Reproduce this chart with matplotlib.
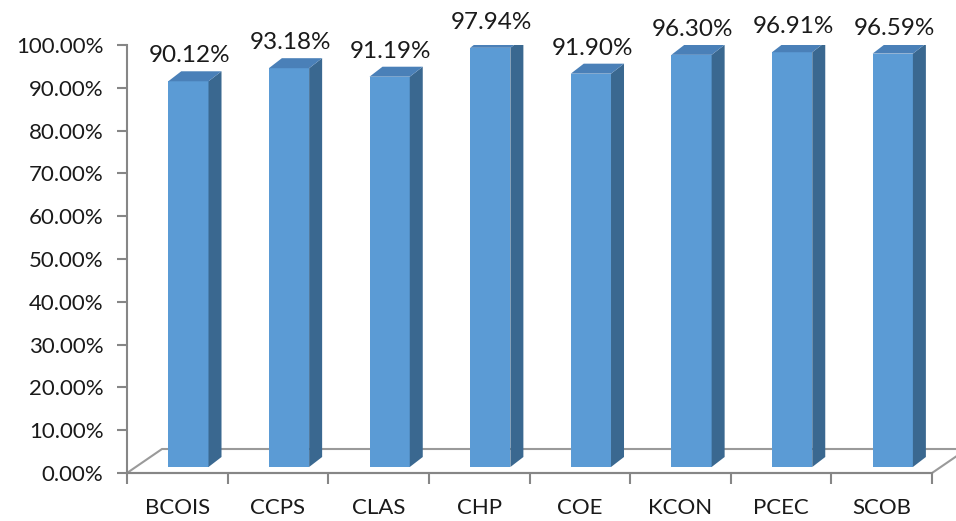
import matplotlib.pyplot as plt
from matplotlib.patches import Polygon
from matplotlib.ticker import FuncFormatter, MultipleLocator

# -------------------------------
# DATA
# -------------------------------
colleges = ["BCOIS", "CCPS", "CLAS", "CHP", "COE", "KCON", "PCEC", "SCOB"]
rates = [0.9012, 0.9318, 0.9119, 0.9794, 0.9190, 0.9630, 0.9691, 0.9659]

# -------------------------------
# FIGURE / AXES
# -------------------------------
plt.rcParams["font.family"] = ["Lato", "DejaVu Sans"]
fig = plt.figure(figsize=(9.56, 5.21), dpi=100)
ax = fig.add_axes([127 / 956, 48 / 521, 805 / 956, 428 / 521])
ax.set_xlim(-0.5, len(colleges) - 0.5)
ax.set_ylim(0, 1.0)

# 3d look: depth offsets in data units (~13 px right, ~10 px up)
px_x = (len(colleges)) / 805
px_y = 1.0 / 428
dx = 13 * px_x
dy = 10 * px_y
base = 6 * px_y
w = 0.40
front_c = "#5B9BD5"
side_c = "#3A6890"
top_c = "#4A80B8"

for i, v in enumerate(rates):
    x0 = i - 0.09
    x1 = x0 + w
    top = base + v
    ax.bar(x0, v, width=w, bottom=base, align="edge", color=front_c, zorder=3)
    ax.add_patch(Polygon([(x1, base), (x1 + dx, base + dy), (x1 + dx, top + dy), (x1, top)],
                         closed=True, fc=side_c, ec="none", zorder=3))
    ax.add_patch(Polygon([(x0, top), (x0 + dx, top + dy), (x1 + dx, top + dy), (x1, top)],
                         closed=True, fc=top_c, ec="none", zorder=3))
    ax.annotate(f"{v * 100:.2f}%", xy=((x0 + x1) / 2 + dx * 0.1, top + dy), xytext=(0, 5),
                textcoords="offset pixels", ha="center", va="bottom", fontsize=17.5,
                color="#1a1a1a", annotation_clip=False)

# floor
fdx = 35 * px_x
fdy = 24 * px_y
n = len(colleges)
floor = Polygon([(-0.5, 0), (-0.5 + fdx, fdy), (n - 0.5 + fdx, fdy), (n - 0.5, 0)],
                closed=True, fc="none", ec="#9a9a9a", lw=1.5, zorder=1, clip_on=False)
ax.add_patch(floor)

# -------------------------------
# AXES STYLE
# -------------------------------
for s in ["top", "right"]:
    ax.spines[s].set_visible(False)
ax.spines["left"].set_color("#868686")
ax.spines["bottom"].set_color("#868686")
ax.spines["left"].set_linewidth(1.5)
ax.spines["bottom"].set_linewidth(1.5)

ax.yaxis.set_major_locator(MultipleLocator(0.1))
ax.yaxis.set_major_formatter(FuncFormatter(lambda y, p: f"{y * 100:.2f}%"))
ax.tick_params(axis="y", length=7, width=1.5, color="#868686", labelsize=16,
               labelcolor="#1a1a1a", pad=10)

ax.set_xticks(range(n))
ax.set_xticklabels(colleges)
ax.set_xticks([i - 0.5 for i in range(n + 1)], minor=True)
ax.tick_params(axis="x", which="major", length=0, labelsize=16, labelcolor="#1a1a1a", pad=18)
ax.tick_params(axis="x", which="minor", length=8, width=1.5, color="#868686")

fig.savefig("out.png", dpi=100)
